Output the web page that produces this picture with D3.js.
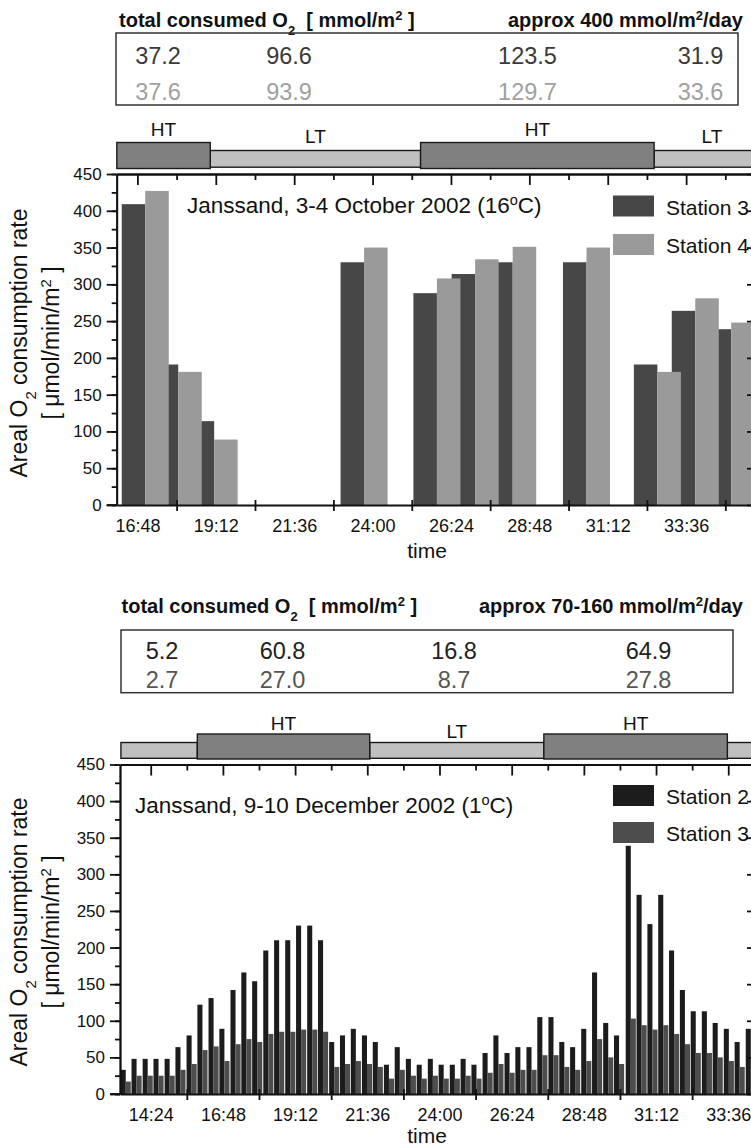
<!DOCTYPE html>
<html>
<head>
<meta charset="utf-8">
<script src="https://cdn.jsdelivr.net/npm/d3@7"></script>
<style>
  body { margin: 0; background: #fff; }
  svg { display: block; font-family: "Liberation Sans", Arial, sans-serif; }
  text { white-space: pre; }
</style>
</head>
<body>
<script>
// ---------- October panel data ----------
const octTimes    = [17.04, 18.05, 19.15, 23.74, 25.97, 27.14, 28.29, 30.55, 32.72, 33.88, 34.98];
const octStation3 = [409, 191, 114, 330, 288, 314, 330, 330, 191, 264, 239];
const octStation4 = [427, 181, 89, 350, 308, 334, 351, 350, 181, 281, 248];
const octTotalsA  = ["37.2", "96.6", "123.5", "31.9"];
const octTotalsB  = ["37.6", "93.9", "129.7", "33.6"];
// [tide, start h, end h, labelled]
const octTides    = [["LT", 19.03, 25.47, true], ["LT", 32.62, 36.4, true], ["HT", 16.17, 19.03, true], ["HT", 25.47, 32.62, true]];
const octTickTimes  = [16.8, 19.2, 21.6, 24.0, 26.4, 28.8, 31.2, 33.6];
const octTickLabels = ["16:48", "19:12", "21:36", "24:00", "26:24", "28:48", "31:12", "33:36"];

// ---------- December panel data ----------
const decTimes = [13.57, 13.93, 14.30, 14.66, 15.03, 15.39, 15.76, 16.12, 16.49, 16.85,
                  17.22, 17.58, 17.94, 18.31, 18.67, 19.04, 19.40, 19.77, 20.13, 20.50,
                  20.86, 21.22, 21.59, 21.95, 22.32, 22.68, 23.05, 23.41, 23.78, 24.14,
                  24.51, 24.87, 25.23, 25.60, 25.96, 26.33, 26.69, 27.06, 27.42, 27.79,
                  28.15, 28.51, 28.88, 29.24, 29.61, 29.97, 30.36, 30.72, 31.08, 31.44,
                  31.80, 32.16, 32.52, 32.89, 33.25, 33.62, 33.98, 34.35];
const decStation2 = [33, 48, 48, 48, 48, 64, 80, 122, 131, 89,
                     142, 166, 154, 196, 210, 210, 230, 230, 210, 71,
                     80, 89, 80, 71, 40, 64, 48, 40, 48, 40,
                     40, 48, 40, 56, 80, 56, 64, 64, 105, 105,
                     71, 64, 89, 166, 97, 80, 339, 272, 232, 272,
                     196, 142, 113, 113, 97, 89, 71, 89];
const decStation3 = [17, 25, 25, 25, 25, 33, 41, 60, 65, 45,
                     68, 75, 71, 82, 85, 85, 88, 88, 85, 37,
                     41, 45, 41, 37, 21, 33, 25, 21, 25, 21,
                     21, 25, 21, 29, 41, 29, 33, 33, 53, 53,
                     37, 33, 45, 75, 50, 41, 103, 94, 88, 94,
                     82, 68, 56, 56, 50, 45, 37, 45];
const decTotalsA  = ["5.2", "60.8", "16.8", "64.9"];
const decTotalsB  = ["2.7", "27.0", "8.7", "27.8"];
const decTides    = [["LT", 13.41, 15.95, false], ["LT", 21.68, 27.47, true], ["LT", 33.57, 35.0, false], ["HT", 15.95, 21.68, true], ["HT", 27.47, 33.57, true]];
const decTickTimes  = [14.4, 16.8, 19.2, 21.6, 24.0, 26.4, 28.8, 31.2, 33.6];
const decTickLabels = ["14:24", "16:48", "19:12", "21:36", "24:00", "26:24", "28:48", "31:12", "33:36"];

const yTicks = [0, 50, 100, 150, 200, 250, 300, 350, 400, 450];

const svg = d3.select("body").append("svg")
  .attr("width", 751).attr("height", 1148);

function supText(sel, parts) {
  // parts: [text, mode] where mode is "", "sub" or "sup"
  parts.forEach(([t, m]) => {
    const ts = sel.append("tspan").text(t);
    if (m === "sup") ts.attr("baseline-shift", "super").attr("font-size", "65%");
    if (m === "sub") ts.attr("baseline-shift", "sub").attr("font-size", "65%");
  });
}

function drawPanel(c) {
  const x = d3.scaleLinear().domain(c.xDomain).range([c.left, c.right]);
  const y = d3.scaleLinear().domain([0, 450]).range([c.bottom, c.top]);
  const g = svg.append("g");

  // header over the table
  const h1 = g.append("text").attr("x", c.headY[0]).attr("y", c.headY[1])
    .attr("font-size", 20).attr("font-weight", "bold").attr("fill", "#111");
  supText(h1, [["total consumed O", ""], ["2", "sub"], ["  [ mmol/m", ""], ["2", "sup"], [" ]", ""]]);
  const h2 = g.append("text").attr("x", c.headR).attr("y", c.headY[1])
    .attr("text-anchor", "end")
    .attr("font-size", 20).attr("font-weight", "bold").attr("fill", "#111");
  supText(h2, [[c.approx, ""], ["2", "sup"], ["/day", ""]]);

  // table box
  g.append("rect").attr("x", c.box[0]).attr("y", c.box[1])
    .attr("width", c.box[2] - c.box[0]).attr("height", c.box[3] - c.box[1])
    .attr("fill", "none").attr("stroke", "#333").attr("stroke-width", 1.5);
  [c.totalsA, c.totalsB].forEach((row, r) => {
    g.selectAll(null).data(row).join("text")
      .attr("x", (d, i) => c.colX[i]).attr("y", c.rowY[r])
      .attr("text-anchor", "middle").attr("font-size", 23.5)
      .attr("fill", c.rowColor[r]).text(d => d);
  });

  // tide bars (HT / LT)
  const tideFill = { HT: "#808080", LT: "#c0c0c0" };
  g.selectAll(null).data(c.tides).join("rect")
    .attr("x", d => x(d[1])).attr("width", d => x(d[2]) - x(d[1]))
    .attr("y", d => c.tideY[d[0]][0])
    .attr("height", d => c.tideY[d[0]][1] - c.tideY[d[0]][0])
    .attr("fill", d => tideFill[d[0]]).attr("stroke", "#1a1a1a").attr("stroke-width", 1.4);
  g.selectAll(null).data(c.tides.filter(d => d[3])).join("text")
    .attr("x", d => Math.min(x((d[1] + d[2]) / 2), 712)).attr("y", d => c.tideLabelY[d[0]])
    .attr("text-anchor", "middle").attr("font-size", 19).attr("fill", "#111")
    .text(d => d[0]);

  // bars: first series drawn first, second series over it
  const w = c.barW;
  g.append("g").selectAll("rect").data(c.times).join("rect")
    .attr("x", d => x(d - w)).attr("width", d => x(d) - x(d - w))
    .attr("y", (d, i) => y(c.s1[i])).attr("height", (d, i) => y(0) - y(c.s1[i]))
    .attr("fill", c.colors[0]);
  g.append("g").selectAll("rect").data(c.times).join("rect")
    .attr("x", d => x(d)).attr("width", d => x(d + w) - x(d))
    .attr("y", (d, i) => y(c.s2[i])).attr("height", (d, i) => y(0) - y(c.s2[i]))
    .attr("fill", c.colors[1]);

  // axes
  const axStyle = a => {
    a.selectAll("path, line").attr("stroke", "#111").attr("stroke-width", 1.8);
    a.selectAll("text").attr("fill", "#111");
    a.attr("font-family", null);
  };
  // left axis: minor + major
  g.append("g").attr("transform", `translate(${c.left},0)`)
    .call(d3.axisLeft(y).tickValues(d3.range(0, 451, 25)).tickSize(5).tickSizeOuter(0).tickFormat(""))
    .call(axStyle);
  g.append("g").attr("transform", `translate(${c.left},0)`)
    .call(d3.axisLeft(y).tickValues(yTicks).tickSize(10).tickSizeOuter(0).tickPadding(5))
    .call(axStyle).attr("font-size", 17);
  // right axis (just off the crop), ticks pointing inward
  g.append("g").attr("transform", `translate(${c.right},0)`)
    .call(d3.axisRight(y).tickValues(yTicks).tickSize(-10).tickSizeOuter(0).tickFormat(""))
    .call(axStyle);
  // top axis: major at labelled times, minor between
  const mids = c.tickTimes.map(t => t + 1.2);
  g.append("g").attr("transform", `translate(0,${c.top})`)
    .call(d3.axisTop(x).tickValues(c.tickTimes).tickSize(-11).tickSizeOuter(0).tickFormat(""))
    .call(axStyle);
  g.append("g").attr("transform", `translate(0,${c.top})`)
    .call(d3.axisTop(x).tickValues(mids.concat([c.tickTimes[0] - 1.2]).filter(t => x(t) > c.left)).tickSize(-6).tickSizeOuter(0).tickFormat(""))
    .call(axStyle);
  // bottom axis: crossing ticks between labels
  g.append("g").attr("transform", `translate(0,${c.bottom})`)
    .call(d3.axisBottom(x).tickValues(mids).tickSize(6).tickSizeOuter(0).tickFormat(""))
    .call(axStyle)
    .call(a => a.selectAll(".tick line").attr("y1", -5));
  g.append("g").attr("transform", `translate(0,${c.bottom})`)
    .call(d3.axisBottom(x).tickValues(c.tickTimes).tickSize(0).tickPadding(14)
      .tickFormat((d, i) => c.tickLabels[i]))
    .call(axStyle).attr("font-size", 18)
    .call(a => a.select(".domain").remove());
  g.append("line").attr("x1", c.left - 10).attr("x2", c.left)
    .attr("y1", c.bottom).attr("y2", c.bottom).attr("stroke", "#111").attr("stroke-width", 1.8);

  g.append("text").attr("x", 427).attr("y", c.timeY)
    .attr("text-anchor", "middle").attr("font-size", 21).attr("fill", "#111").text("time");

  // y title
  const yt = g.append("g").attr("transform", `translate(0,${c.titleCY}) rotate(-90)`);
  const t1 = yt.append("text").attr("x", 0).attr("y", 27).attr("text-anchor", "middle")
    .attr("font-size", 23).attr("fill", "#111");
  supText(t1, [["Areal O", ""], ["2", "sub"], [" consumption rate", ""]]);
  const t2 = yt.append("text").attr("x", 0).attr("y", 59).attr("text-anchor", "middle")
    .attr("font-size", 23).attr("fill", "#111");
  supText(t2, [["[ \u03bcmol/min/m", ""], ["2", "sup"], [" ]", ""]]);

  // annotation
  const an = g.append("text").attr("x", c.note[0]).attr("y", c.note[1])
    .attr("font-size", 22.5).attr("fill", "#111");
  supText(an, [[c.noteText, ""], ["o", "sup"], ["C)", ""]]);

  // legend
  c.legend.forEach((name, i) => {
    g.append("rect").attr("x", 613).attr("y", c.legendY[i] - 11)
      .attr("width", 41).attr("height", 21).attr("fill", c.colors[i]);
    g.append("text").attr("x", 666).attr("y", c.legendY[i] + 8)
      .attr("font-size", 21).attr("fill", "#111").text(name);
  });
}

drawPanel({
  xDomain: [16.166, 35.77], left: 116.7, right: 757, top: 174, bottom: 505,
  headY: [119, 27], headR: 743, approx: "approx 400 mmol/m",
  box: [116, 33, 738, 105], colX: [158, 289, 527.5, 700.5], rowY: [63.5, 100],
  rowColor: ["#3a3a3a", "#a0a0a0"], totalsA: octTotalsA, totalsB: octTotalsB,
  tides: octTides, tideY: { HT: [142.5, 168.5], LT: [150.5, 167.2] },
  tideLabelY: { HT: 136, LT: 143 },
  times: octTimes, s1: octStation3, s2: octStation4, barW: 0.72,
  colors: ["#474747", "#9a9a9a"],
  tickTimes: octTickTimes, tickLabels: octTickLabels, timeY: 558, titleCY: 343,
  note: [187, 213], noteText: "Janssand, 3-4 October 2002 (16",
  legend: ["Station 3", "Station 4"], legendY: [206.5, 245]
});

drawPanel({
  xDomain: [13.379, 34.556], left: 120, right: 757, top: 764.5, bottom: 1094,
  headY: [121.5, 613], headR: 743, approx: "approx 70-160 mmol/m",
  box: [121, 630, 733, 692.7], colX: [162, 282.5, 454, 648.5], rowY: [658.5, 687.5],
  rowColor: ["#222", "#555"], totalsA: decTotalsA, totalsB: decTotalsB,
  tides: decTides, tideY: { HT: [734, 759], LT: [742.5, 758.3] },
  tideLabelY: { HT: 730, LT: 738 },
  times: decTimes, s1: decStation2, s2: decStation3, barW: 0.168,
  colors: ["#1c1c1c", "#4d4d4d"],
  tickTimes: decTickTimes, tickLabels: decTickLabels, timeY: 1143, titleCY: 932,
  note: [135, 812.5], noteText: "Janssand, 9-10 December 2002 (1",
  legend: ["Station 2", "Station 3"], legendY: [796, 833]
});
</script>
</body>
</html>
